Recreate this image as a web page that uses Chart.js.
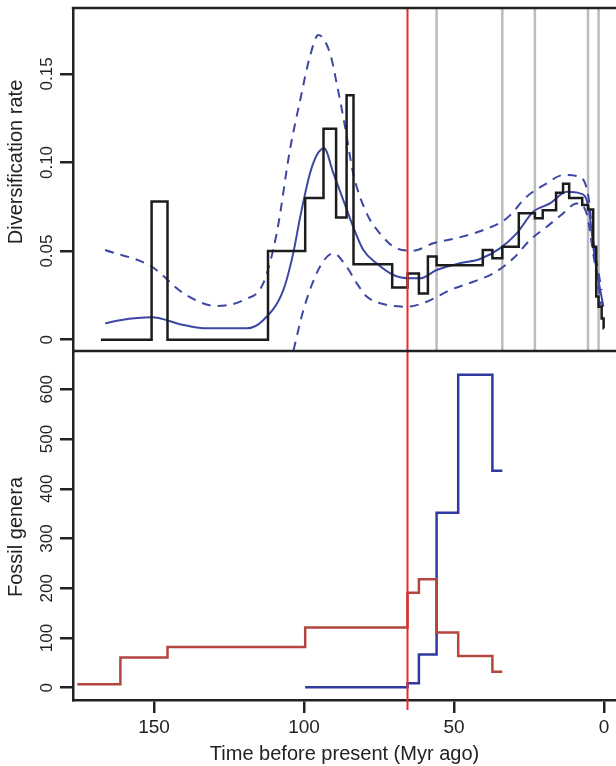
<!DOCTYPE html>
<html>
<head>
<meta charset="utf-8">
<script src="https://cdn.jsdelivr.net/npm/chart.js@4.4.1/dist/chart.umd.min.js"></script>
<style>
  html, body { margin: 0; padding: 0; background: #fff; }
  canvas { display: block; }
</style>
</head>
<body>
<canvas id="divChart" width="616" height="766"></canvas>
<script>
// step estimate of diversification rate (interval boundaries in Myr, one value per interval)
const rateBreaks = [167.7, 150.8, 145.5, 112.0, 99.6, 93.5, 89.3, 85.8, 83.5, 70.6, 65.5, 61.7, 58.7,
  55.8, 40.4, 37.2, 33.9, 28.4, 23.03, 20.43, 15.97, 13.65, 11.61, 7.25, 5.33, 3.6, 2.59, 1.81, 0.78, 0.126, 0];
const rateValues = [0, 0.078, 0, 0.05, 0.08, 0.119, 0.069, 0.138, 0.0425, 0.0295, 0.0374, 0.026, 0.047,
  0.042, 0.0506, 0.046, 0.0525, 0.0713, 0.0685, 0.0731, 0.0829, 0.088, 0.080, 0.076, 0.0735, 0.0525, 0.0243, 0.0186, 0.012, 0.0064];

// smoothed rate and its envelope
const meanAges = [166.3, 161.3, 150.8, 140.2, 132.4, 119.1, 113.6, 106.9, 103.6, 101.3, 98, 95.8, 93.3, 90.2, 86.9,
  83.6, 80.2, 75.8, 70.2, 64.7, 61.3, 55.8, 48, 41.3, 34.7, 29.1, 23.6, 18, 12.4, 8, 5.2, 3, 0.2];
const meanRate = [0.0092, 0.011, 0.0126, 0.0083, 0.0064, 0.0064, 0.011, 0.028, 0.0487, 0.069, 0.0939, 0.104, 0.108, 0.0939, 0.0788,
  0.0637, 0.0506, 0.0431, 0.0365, 0.0346, 0.0346, 0.0393, 0.0431, 0.0455, 0.0515, 0.06, 0.0722, 0.0769, 0.0835, 0.0826, 0.075, 0.045, 0.0186];

const upperAges = [166.3, 150.8, 140.2, 129.1, 120.2, 113.6, 109.1, 104.7, 101.3, 98, 95.2, 91.3, 89.1, 86.3, 83.6,
  79.1, 74.7, 69.1, 63.6, 56.9, 48, 40.2, 32.4, 25.8, 19.1, 13.6, 8, 5.2, 3.6, 0.8];
const upperRate = [0.0506, 0.0412, 0.0262, 0.019, 0.0224, 0.0318, 0.06, 0.107, 0.135, 0.16, 0.1719, 0.1615, 0.1446, 0.12, 0.0939,
  0.0713, 0.06, 0.0515, 0.0502, 0.0544, 0.0578, 0.0619, 0.0685, 0.0807, 0.0882, 0.0929, 0.0919, 0.0807, 0.0562, 0.028];

const lowerAges = [103.5, 100.2, 94.7, 90.2, 85.8, 82.4, 79.1, 73.6, 65.8, 59.1, 51.3, 43.6, 36.9, 30.2, 24.7,
  19.1, 13.6, 9.1, 5.8, 3.6, 0.8];
const lowerRate = [-0.006, 0.0167, 0.0412, 0.0487, 0.0412, 0.0318, 0.0243, 0.0201, 0.0186, 0.0214, 0.028, 0.0327, 0.0374, 0.0459, 0.0562,
  0.0637, 0.0713, 0.0769, 0.0713, 0.0487, 0.0186];

// fossil genera per stage
const fossilBreaks = [175.6, 161.2, 145.5, 99.6, 65.5, 61.7, 55.8, 48.6, 37.2, 33.9];
const fossilRed = [7, 61, 82, 121, 191, 218, 111, 64, 32];
const fossilBlue = [null, null, null, 1, 9, 67, 352, 629, 436];

const epochLines = [55.8, 33.9, 23.03, 5.33, 1.81];
const kpgBoundary = 65.5;

const timeTicks = [0, 50, 100, 150];
const rateTicks = [0, 0.05, 0.10, 0.15];
const rateTickLabels = ['0', '0.05', '0.10', '0.15'];
const fossilTicks = [0, 100, 200, 300, 400, 500, 600];

const ink = '#222222';
const font = '"Liberation Sans", Arial, Helvetica, sans-serif';

function stepPoints(breaks, values) {
  const pts = [];
  values.forEach((v, i) => {
    if (v === null) return;
    pts.push({ x: breaks[i], y: v });
  });
  let last = values.length - 1;
  pts.push({ x: breaks[last + 1], y: values[last] });
  return pts;
}

function curvePoints(ages, vals) {
  return ages.map((a, i) => ({ x: a, y: vals[i] }));
}

const panels = {
  id: 'panels',
  beforeDatasetsDraw(chart) {
    const { ctx } = chart;
    const x = chart.scales.x, yr = chart.scales.yRate;
    ctx.save();
    ctx.strokeStyle = '#bcbcbc';
    ctx.lineWidth = 2.5;
    epochLines.forEach(t => {
      const px = x.getPixelForValue(t);
      ctx.beginPath();
      ctx.moveTo(px, yr.top);
      ctx.lineTo(px, yr.bottom);
      ctx.stroke();
    });
    ctx.restore();
  },
  afterDatasetsDraw(chart) {
    const { ctx, chartArea } = chart;
    const px = chart.scales.x.getPixelForValue(kpgBoundary);
    ctx.save();
    ctx.strokeStyle = '#ec2a2c';
    ctx.lineWidth = 2;
    ctx.beginPath();
    ctx.moveTo(px, chartArea.top);
    ctx.lineTo(px, chartArea.bottom + 10);
    ctx.stroke();
    ctx.restore();
  },
  afterDraw(chart) {
    const { ctx, chartArea } = chart;
    const yr = chart.scales.yRate, yf = chart.scales.yFossil;
    ctx.save();
    ctx.strokeStyle = ink;
    ctx.lineWidth = 2.5;
    ctx.beginPath();
    ctx.moveTo(chartArea.left - 1.25, chartArea.top);
    ctx.lineTo(chartArea.right, chartArea.top);
    ctx.moveTo(chartArea.left, yr.bottom);
    ctx.lineTo(chartArea.right, yr.bottom);
    ctx.stroke();

    // rotated tick labels, R style
    ctx.fillStyle = ink;
    ctx.textAlign = 'center';
    ctx.textBaseline = 'middle';
    ctx.font = '17px ' + font;
    const vlabel = (txt, x, y) => {
      ctx.save();
      ctx.translate(x, y);
      ctx.rotate(-Math.PI / 2);
      ctx.fillText(txt, 0, 0);
      ctx.restore();
    };
    rateTicks.forEach((v, i) => vlabel(rateTickLabels[i], 47, yr.getPixelForValue(v)));
    fossilTicks.forEach(v => vlabel(String(v), 47, yf.getPixelForValue(v)));

    ctx.font = '20px ' + font;
    vlabel('Diversification rate', 16, 162);
    vlabel('Fossil genera', 16, 537);
    ctx.restore();
  }
};

const axisTicks = list => scale => { scale.ticks = list.map(v => ({ value: v })); };

new Chart(document.getElementById('divChart').getContext('2d'), {
  type: 'line',
  data: {
    datasets: [
      { data: stepPoints(rateBreaks, rateValues), yAxisID: 'yRate', stepped: 'before',
        borderColor: '#1c1c1c', borderWidth: 2.5, pointRadius: 0 },
      { data: curvePoints(upperAges, upperRate), yAxisID: 'yRate', cubicInterpolationMode: 'monotone',
        borderColor: '#3d47a3', borderWidth: 2, borderDash: [9, 7], pointRadius: 0 },
      { data: curvePoints(lowerAges, lowerRate), yAxisID: 'yRate', cubicInterpolationMode: 'monotone',
        borderColor: '#3d47a3', borderWidth: 2, borderDash: [9, 7], pointRadius: 0 },
      { data: curvePoints(meanAges, meanRate), yAxisID: 'yRate', cubicInterpolationMode: 'monotone',
        borderColor: '#3d47a3', borderWidth: 2, pointRadius: 0 },
      { data: stepPoints(fossilBreaks, fossilRed), yAxisID: 'yFossil', stepped: 'before',
        borderColor: '#b4463f', borderWidth: 2.5, pointRadius: 0 },
      { data: stepPoints(fossilBreaks, fossilBlue), yAxisID: 'yFossil', stepped: 'before',
        borderColor: '#2e3a9e', borderWidth: 2.5, pointRadius: 0 }
    ]
  },
  options: {
    responsive: false,
    animation: false,
    devicePixelRatio: 1,
    layout: { padding: { top: 8, left: 0, right: 0, bottom: 0 } },
    plugins: { legend: { display: false }, tooltip: { enabled: false } },
    scales: {
      x: {
        type: 'linear', reverse: true, min: -4, max: 177,
        afterBuildTicks: axisTicks(timeTicks),
        afterFit(scale) { scale.height = 66; },
        grid: { drawOnChartArea: false, tickLength: 13, color: ink, lineWidth: 2.5 },
        border: { color: ink, width: 2.5 },
        ticks: { color: ink, padding: 3, maxRotation: 0, font: { family: font, size: 19 } },
        title: { display: true, text: 'Time before present (Myr ago)', color: ink,
          padding: { top: 0, bottom: 0 }, font: { family: font, size: 20 } }
      },
      // in a stack the first axis sits at the bottom
      yFossil: {
        type: 'linear', position: 'left', stack: 'panels', stackWeight: 349,
        min: -24.7, max: 677,
        afterBuildTicks: axisTicks(fossilTicks),
        afterFit(scale) { scale.width = 73; },
        grid: { drawOnChartArea: false, tickLength: 13, color: ink, lineWidth: 2.5 },
        border: { color: ink, width: 2.5 },
        ticks: { display: false }
      },
      yRate: {
        type: 'linear', position: 'left', stack: 'panels', stackWeight: 343,
        min: -0.0064, max: 0.1872,
        afterBuildTicks: axisTicks(rateTicks),
        afterFit(scale) { scale.width = 73; },
        grid: { drawOnChartArea: false, tickLength: 13, color: ink, lineWidth: 2.5 },
        border: { color: ink, width: 2.5 },
        ticks: { display: false }
      }
    }
  },
  plugins: [panels]
});
</script>
</body>
</html>
